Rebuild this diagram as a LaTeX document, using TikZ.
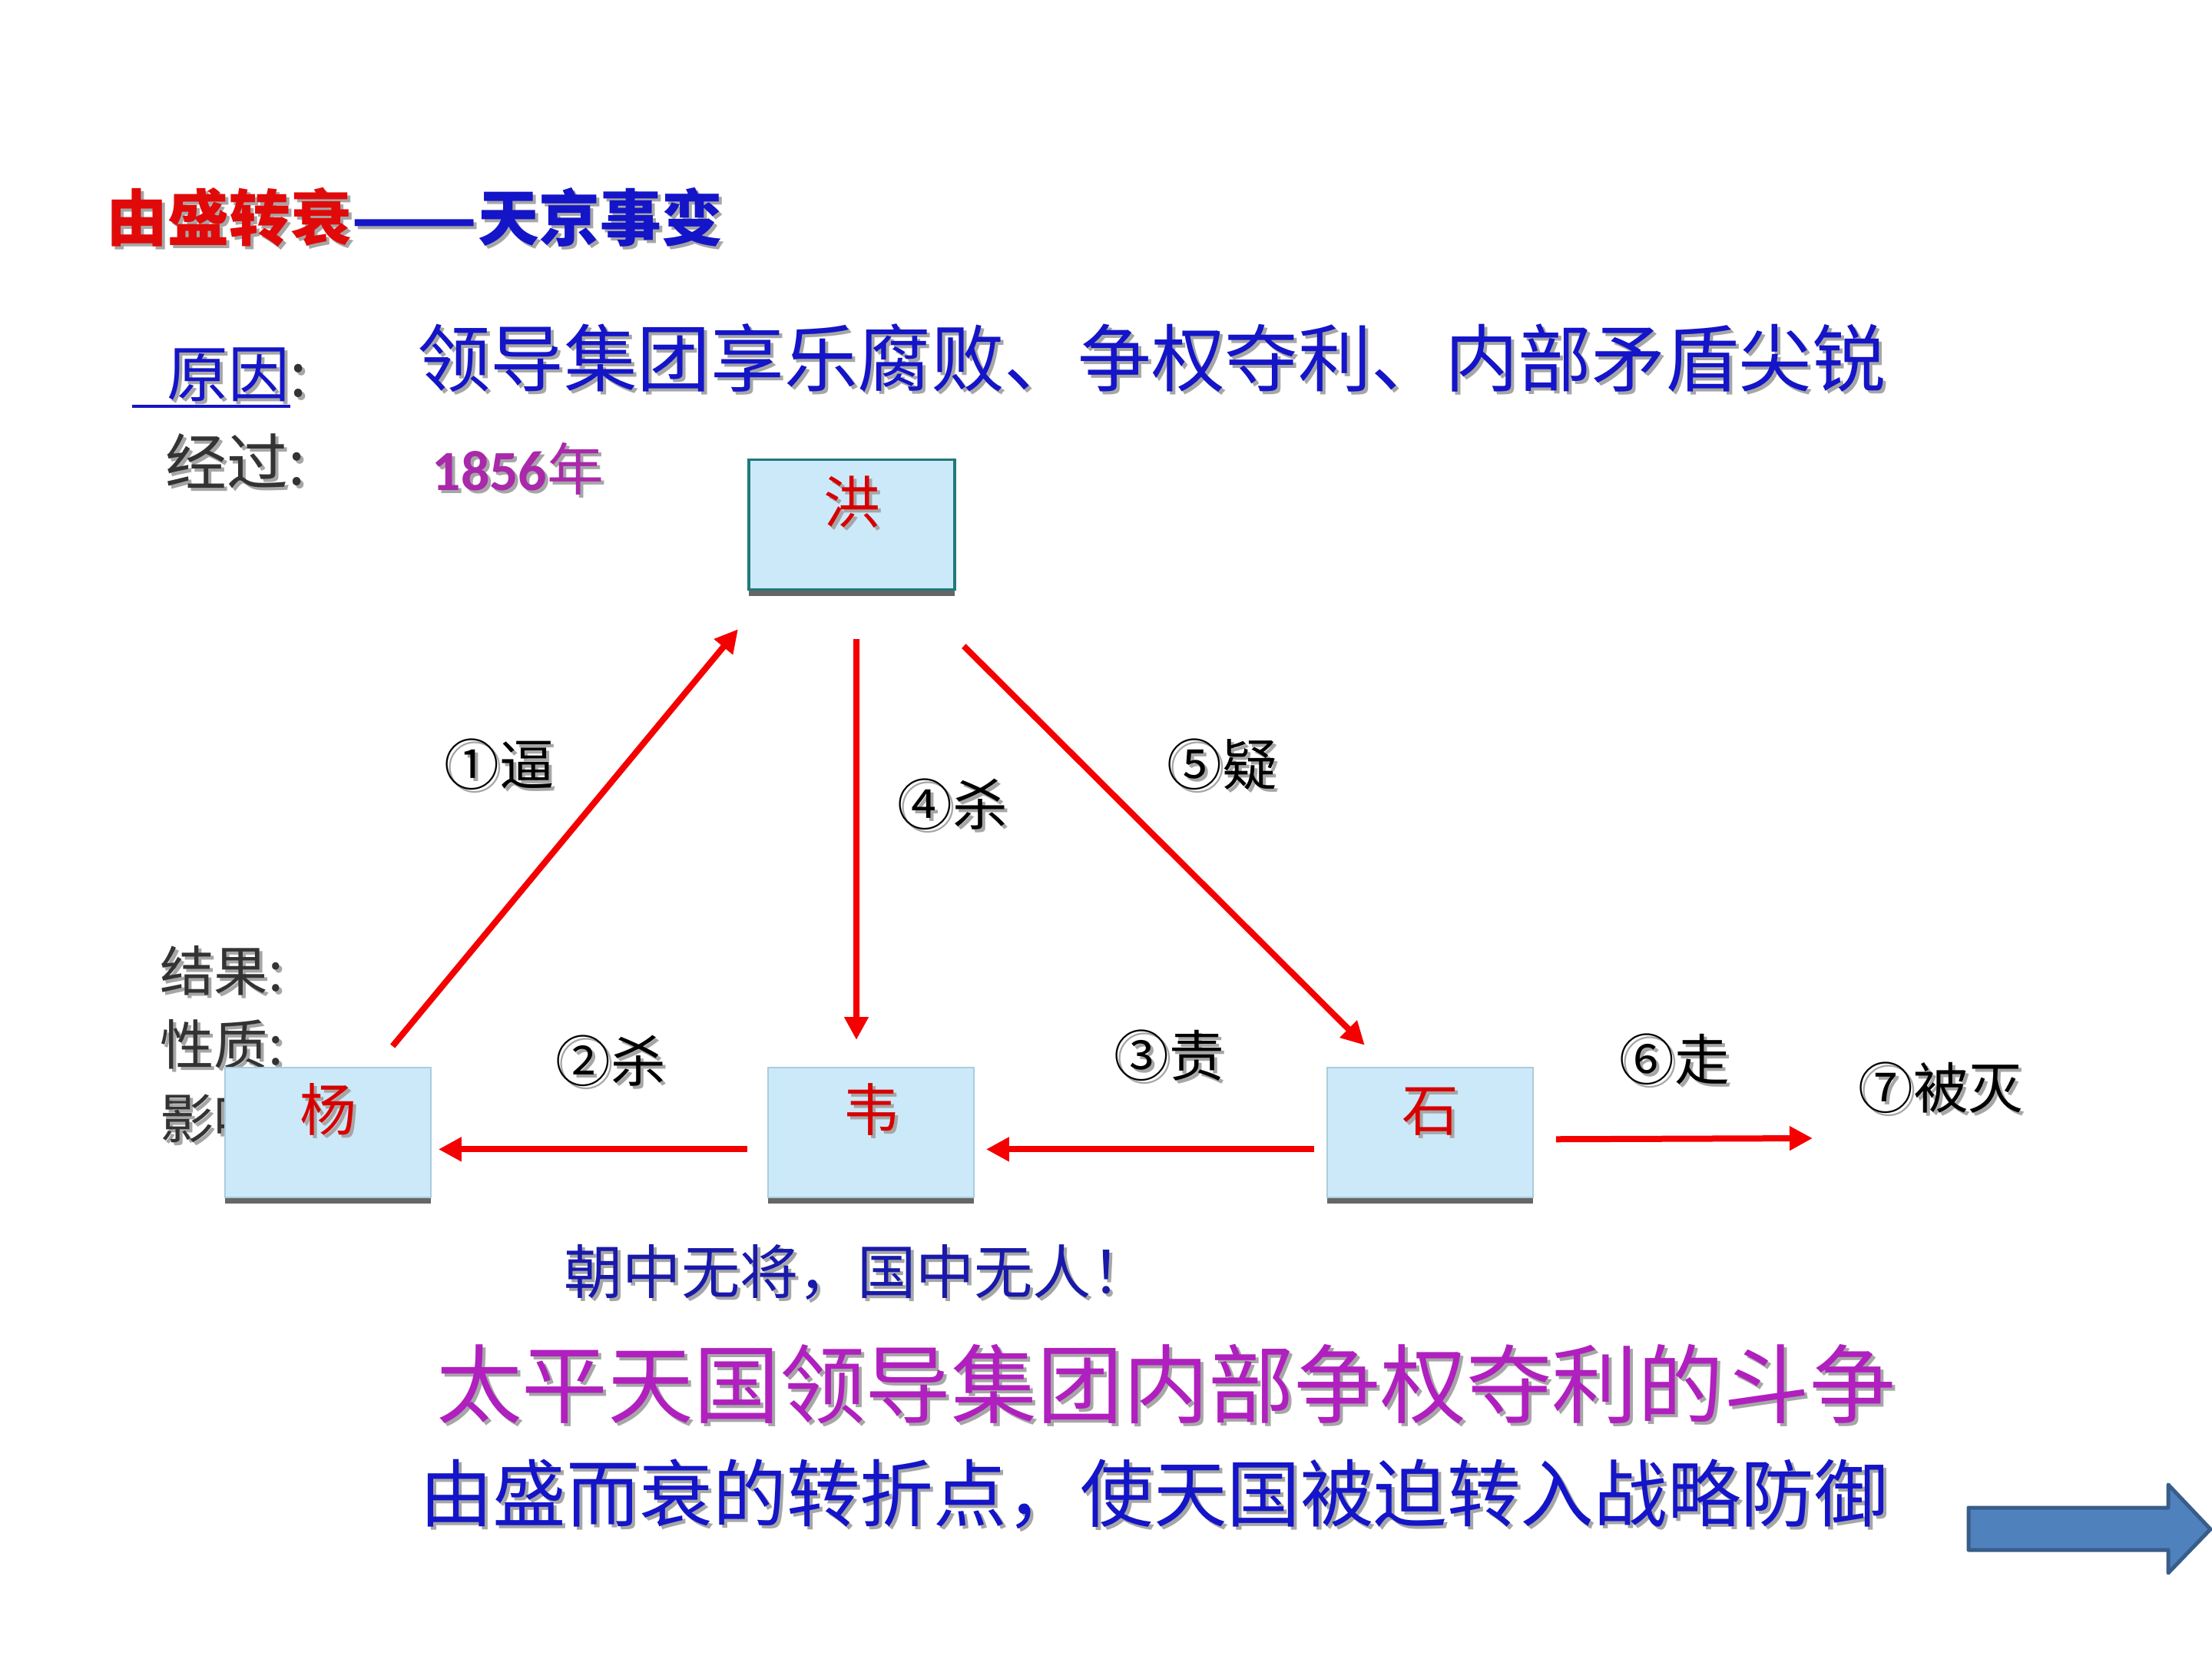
\documentclass[tikz,border=0pt]{standalone}
\usepackage{fontspec}
\setmainfont{Noto Sans CJK SC}
\newfontfamily\numfont{Carlito}
\usepackage{tikz}
\usetikzlibrary{arrows.meta,shadows}

\definecolor{boxblue}{RGB}{204,233,250}
\definecolor{boxteal}{RGB}{31,122,122}
\definecolor{boxline}{RGB}{170,205,218}
\definecolor{arrowred}{RGB}{245,0,0}
\definecolor{titlered}{RGB}{225,10,10}
\definecolor{textblue}{RGB}{20,20,200}
\definecolor{navyblue}{RGB}{25,25,170}
\definecolor{plum}{RGB}{176,32,190}
\definecolor{yearpurple}{RGB}{170,40,170}
\definecolor{namered}{RGB}{215,0,0}
\definecolor{arrowfill}{RGB}{79,129,189}
\definecolor{arrowedge}{RGB}{56,93,138}

% grey shadow behind a piece of text
\newcommand{\shd}[1]{\makebox[0pt][l]{\kern0.4mm\raisebox{-0.4mm}{\textcolor{black!35}{#1}}}#1}

\tikzset{
  person/.style={draw=boxline, line width=0.5pt, fill=boxblue, anchor=north,
    minimum width=2.68cm, inner xsep=0pt, inner ysep=0pt,
    text height=0.83cm, text depth=0.86cm, text=namered,
    font=\fontsize{21pt}{21pt}\selectfont,
    drop shadow={shadow xshift=0pt, shadow yshift=-0.08cm, fill=black!60, opacity=1}},
  redarrow/.style={draw=arrowred, line width=0.8mm, -{Triangle[length=3mm,width=3mm]}},
  deed/.style={font=\fontsize{20.4pt}{20.4pt}\selectfont, inner sep=0pt},
}

\begin{document}
\begin{tikzpicture}
            \useasboundingbox (0,0) rectangle (28.8,-21.6);
            \fill[white] (0,0) rectangle (28.8,-21.6);
            % Headings
            \node[anchor=west, inner sep=0pt, font=\fontsize{22.7pt}{22.7pt}\selectfont\bfseries] (title) at (1.38,-2.85)
              {\textcolor{titlered}{\shd{由盛转衰}}\textcolor{textblue}{\shd{\scalebox{1.2}[1]{——}}\shd{天京事变}}};
            \node[anchor=west, inner sep=0pt, font=\fontsize{22.7pt}{22.7pt}\selectfont, text=black!80] (yuanyin) at (1.71,-4.92)
              {\textcolor{textblue}{\makebox[0pt][l]{\rule[-0.14cm]{2.06cm}{0.04cm}}\hspace{0.46cm}\shd{原因}}\shd{:}};
            \node[inner sep=0pt, font=\fontsize{27.2pt}{27.2pt}\selectfont, text=textblue] (reason) at (14.99,-4.68)
              {\shd{领导集团享乐腐败、争权夺利、内部矛盾尖锐}};
            \node[anchor=west, inner sep=0pt, font=\fontsize{22.7pt}{22.7pt}\selectfont, text=black!80] (jingguo) at (2.15,-6.02)
              {\shd{经过:}};
            \node[anchor=west, inner sep=0pt, font=\fontsize{21pt}{21pt}\selectfont, text=yearpurple] (year) at (5.62,-6.12)
              {\shd{{\numfont\bfseries 1856}年}};
            \node[anchor=west, inner sep=0pt, align=left, text=black!80, font=\fontsize{20pt}{27.3pt}\selectfont] (jieguo) at (2.08,-13.62)
              {\shd{结果:}\\\shd{性质:}\\\shd{影响:}};
            % The four leaders
            \node[person, draw=boxteal, line width=0.9pt] (hong) at (11.09,-5.97) {\shd{洪}};
            \node[person] (yang) at (4.27,-13.89) {\shd{杨}};
            \node[person] (wei) at (11.34,-13.89) {\shd{韦}};
            \node[person] (shi) at (18.62,-13.89) {\shd{石}};
            % Arrows between them
            \draw[redarrow, shorten <=0.35cm, shorten >=0.65cm] ([xshift=-0.73cm]yang.north east) -- ([xshift=0.29cm]hong.south west);
            \draw[redarrow, shorten <=0.63cm, shorten >=0.35cm] ([xshift=0.06cm]hong.south) -- ([xshift=-0.19cm]wei.north);
            \draw[redarrow, shorten <=1.02cm, shorten >=0.4cm] ([xshift=-0.62cm]hong.south east) -- ([xshift=0.78cm]shi.north west);
            \draw[redarrow, shorten <=0.26cm, shorten >=0.09cm] ([yshift=-0.22cm]wei.west) -- ([yshift=-0.22cm]yang.east);
            \draw[redarrow, shorten <=0.16cm, shorten >=0.15cm] ([yshift=-0.22cm]shi.west) -- ([yshift=-0.22cm]wei.east);
            \coordinate (exile) at (23.6,-14.82);
            \draw[redarrow, shorten <=0.29cm] ([yshift=-0.09cm]shi.east) -- (exile);
            % Label the steps
            \node[deed] (bi) at (6.50,-9.97) {\shd{①逼}};
            \node[deed] (sha4) at (12.40,-10.49) {\shd{④杀}};
            \node[deed] (yi) at (15.91,-9.97) {\shd{⑤疑}};
            \node[deed] (sha2) at (7.95,-13.83) {\shd{②杀}};
            \node[deed] (ze) at (15.22,-13.76) {\shd{③责}};
            \node[deed] (zou) at (21.80,-13.81) {\shd{⑥走}};
            \node[deed] (mie) at (25.27,-14.18) {\shd{⑦被灭}};
            % Conclusions
            \node[inner sep=0pt, font=\fontsize{21.7pt}{21.7pt}\selectfont, text=navyblue] (wuren) at (11.16,-16.59)
              {\shd{朝中无将，国中无人！}};
            \node[inner sep=0pt, font=\fontsize{31.8pt}{31.8pt}\selectfont, text=plum] (xingzhi) at (15.18,-18.04)
              {\shd{太平天国领导集团内部争权夺利的斗争}};
            \node[inner sep=0pt, font=\fontsize{27.2pt}{27.2pt}\selectfont, text=textblue] (yingxiang) at (15.02,-19.47)
              {\shd{由盛而衰的转折点，使天国被迫转入战略防御}};
            % Next-page arrow
            \draw[fill=arrowfill, draw=arrowedge, line width=0.5mm, line join=round]
              (25.63,-19.63) -- (28.23,-19.63) -- (28.23,-19.33) -- (28.78,-19.91)
              -- (28.23,-20.48) -- (28.23,-20.18) -- (25.63,-20.18) -- cycle;
\end{tikzpicture}
\end{document}
